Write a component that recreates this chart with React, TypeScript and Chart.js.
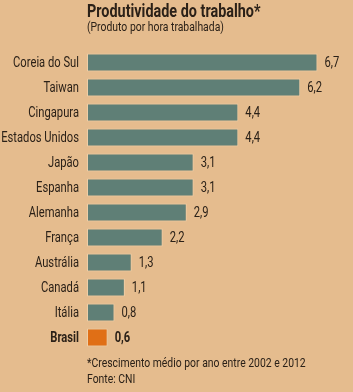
import React, { useEffect, useRef } from "react";
import { Chart, registerables } from "chart.js";

Chart.register(...registerables);

const categories = [
  "Coreia do Sul", "Taiwan", "Cingapura", "Estados Unidos", "Japão", "Espanha",
  "Alemanha", "França", "Austrália", "Canadá", "Itália", "Brasil",
];
const values = [6.7, 6.2, 4.4, 4.4, 3.1, 3.1, 2.9, 2.2, 1.3, 1.1, 0.8, 0.6];
const valueLabels = ["6,7", "6,2", "4,4", "4,4", "3,1", "3,1", "2,9", "2,2", "1,3", "1,1", "0,8", "0,6"];
const highlight = "Brasil";
const title = "Produtividade do trabalho*";
const subtitle = "(Produto por hora trabalhada)";
const footnotes = ["*Crescimento médio por ano entre 2002 e 2012", "Fonte: CNI"];

const FONT = 'Roboto, "Liberation Sans", sans-serif';
const BG = "#E5BC8E";
const BAR = "#5F7F76";
const ORANGE = "#E06F16";
const TEXT = "#2B2118";
const SX = 0.8;

function drawText(ctx: CanvasRenderingContext2D, text: string, x: number, y: number, font: string, align: CanvasTextAlign) {
  ctx.save();
  ctx.font = font;
  ctx.textAlign = align;
  ctx.translate(x, y);
  ctx.scale(SX, 1);
  ctx.fillText(text, 0, 0);
  ctx.restore();
}

export default function App() {
  const ref = useRef<HTMLCanvasElement>(null);
  useEffect(() => {
    const textPlugin = {
      id: "texts",
      afterDatasetsDraw(chart: any) {
        const ctx = chart.ctx as CanvasRenderingContext2D;
        const left = chart.chartArea.left;
        const yScale = chart.scales.y;
        ctx.save();
        ctx.fillStyle = TEXT;
        ctx.textBaseline = "alphabetic";
        drawText(ctx, title, left, 17, `bold 18px ${FONT}`, "left");
        drawText(ctx, subtitle, left, 31, `13px ${FONT}`, "left");
        drawText(ctx, footnotes[0], left, 367, `13px ${FONT}`, "left");
        drawText(ctx, footnotes[1], left, 383, `13px ${FONT}`, "left");
        ctx.textBaseline = "middle";
        const meta = chart.getDatasetMeta(0);
        categories.forEach((c, i) => {
          const bold = c === highlight;
          const y = yScale.getPixelForValue(i) + 1;
          drawText(ctx, c, left - 8, y, `${bold ? "bold " : ""}14px ${FONT}`, "right");
          const el = meta.data[i];
          drawText(ctx, valueLabels[i], el.x + 7, y, `${bold ? "bold " : ""}14px ${FONT}`, "left");
        });
        ctx.restore();
      },
    };
    const chart = new Chart(ref.current!, {
      type: "bar",
      data: {
        labels: categories,
        datasets: [
          {
            data: values,
            backgroundColor: categories.map((c) => (c === highlight ? ORANGE : BAR)),
            borderColor: "rgba(255,240,215,0.35)",
            borderWidth: 1,
            borderSkipped: false,
            barPercentage: 0.72,
            categoryPercentage: 1,
          },
        ],
      },
      options: {
        indexAxis: "y",
        responsive: false,
        animation: false,
        layout: { padding: { top: 50, bottom: 42, left: 0, right: 8 } },
        plugins: { legend: { display: false }, tooltip: { enabled: false }, title: { display: false } },
        scales: {
          x: { display: false, min: 0, max: 7.5 },
          y: {
            grid: { display: false },
            border: { display: false },
            afterFit: (s: any) => { s.width = 87; },
            ticks: { display: false },
          },
        },
      },
      plugins: [textPlugin],
    });
    return () => chart.destroy();
  }, []);
  return (
    <div style={{ position: "fixed", left: 0, top: 0, width: 353, height: 392, background: BG }}>
      <canvas ref={ref} width={353} height={392} style={{ width: 353, height: 392 }} />
    </div>
  );
}
